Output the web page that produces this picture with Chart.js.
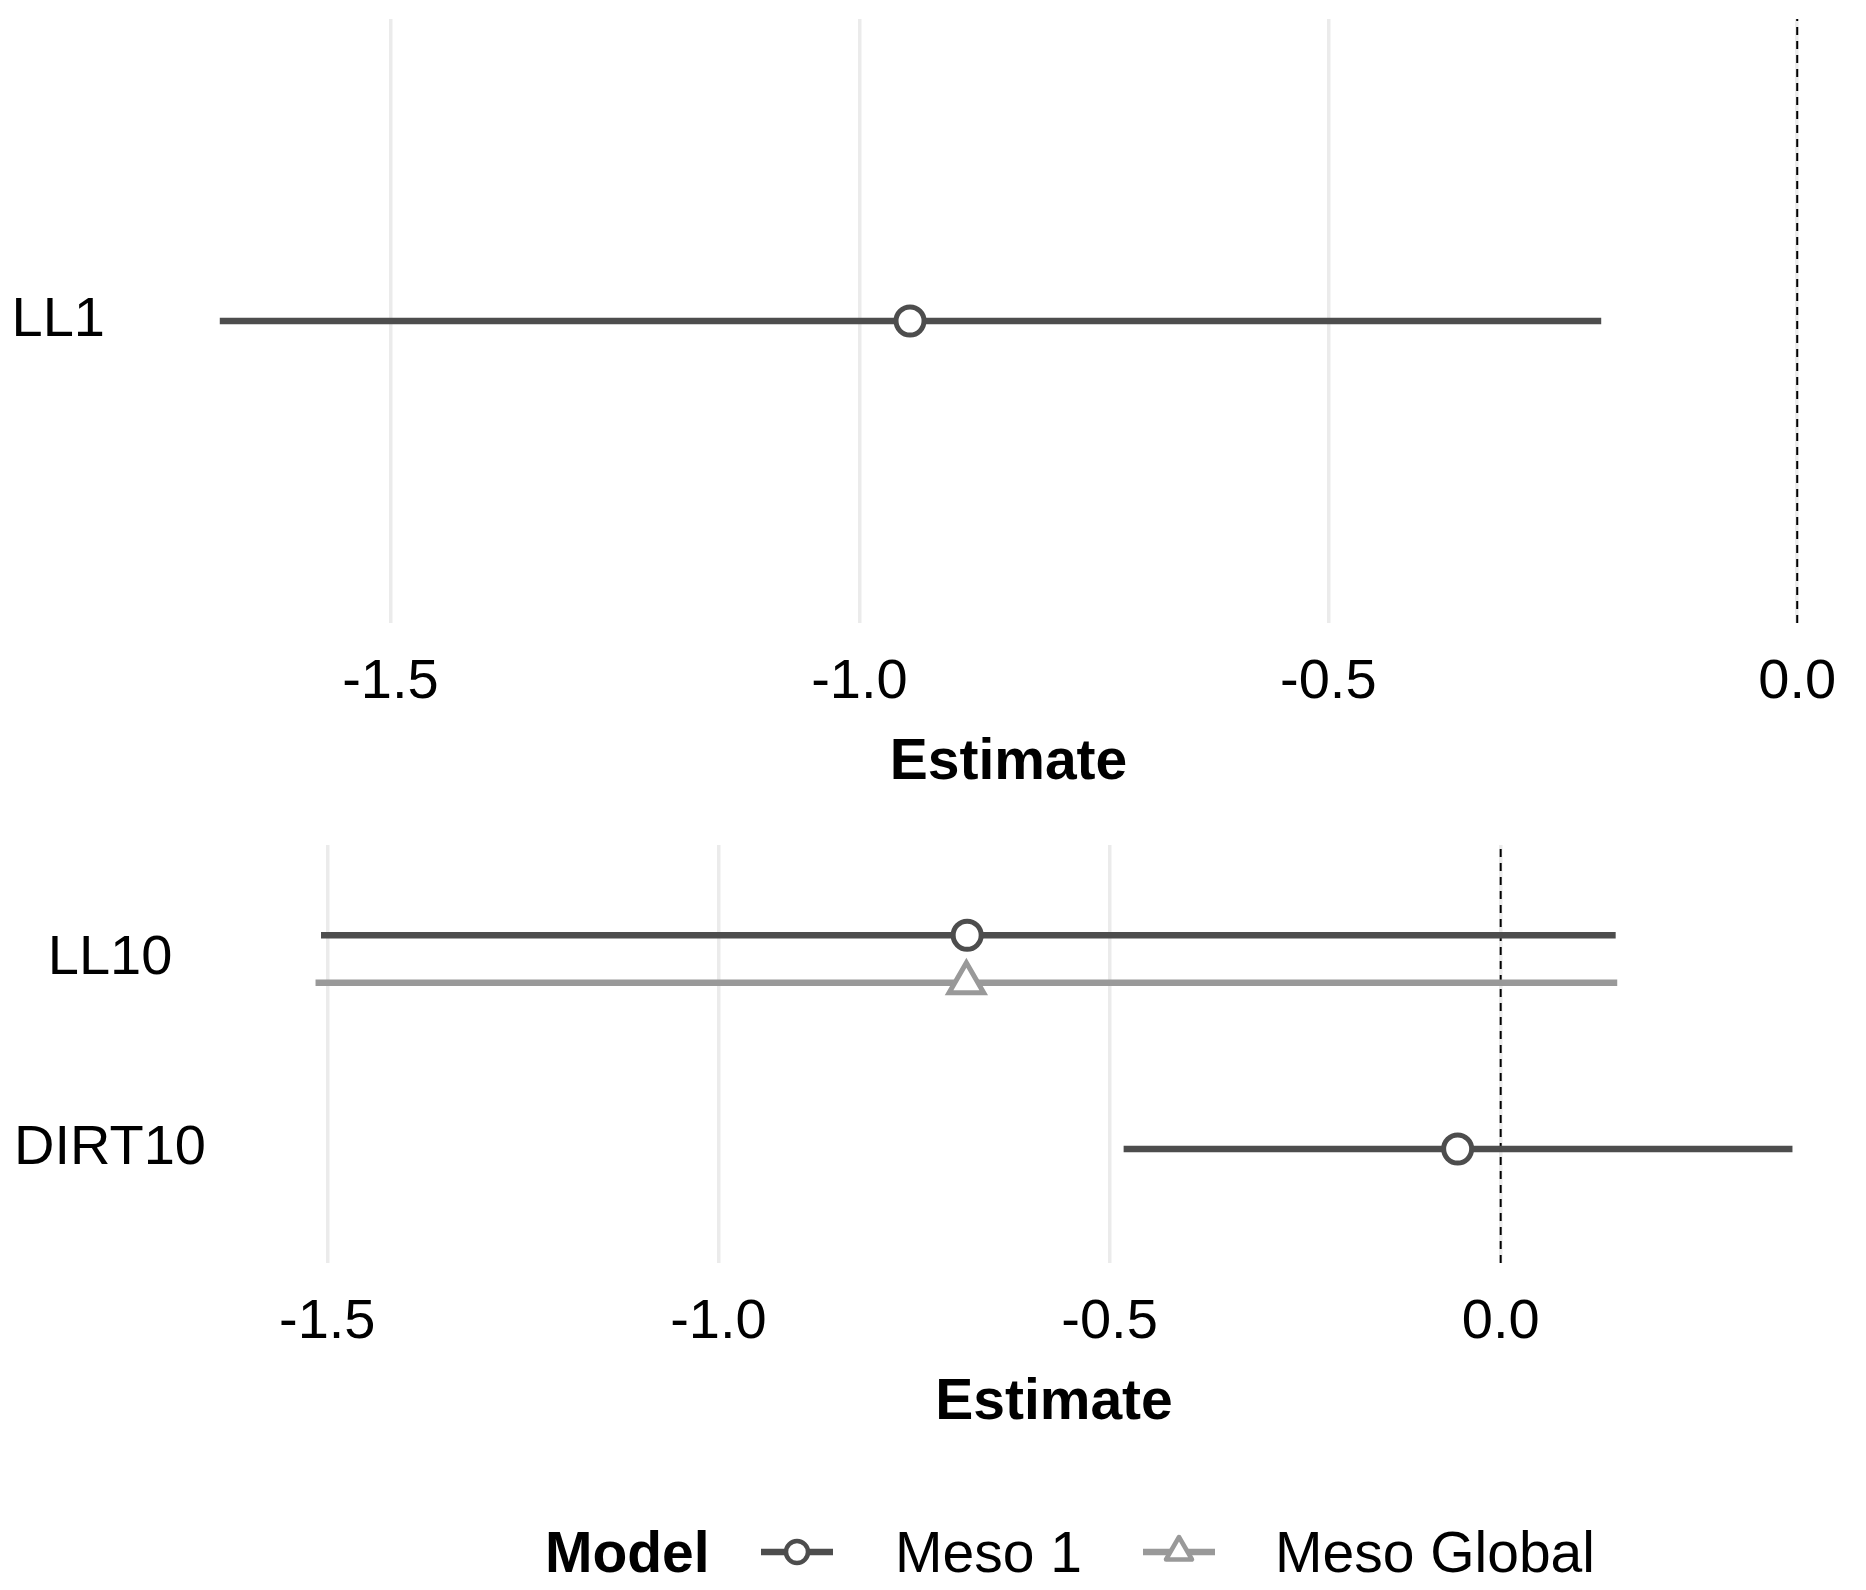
<!DOCTYPE html>
<html>
<head>
<meta charset="utf-8">
<title>Estimates by model</title>
<script src="https://cdn.jsdelivr.net/npm/chart.js@4.4.1/dist/chart.umd.min.js"></script>
<style>
  html, body { margin: 0; padding: 0; background: #fff; }
  #wrap { position: relative; width: 1866px; height: 1590px; overflow: hidden; background: #fff; }
  canvas { position: absolute; left: 0; }
  #topChart { top: 0; }
  #bottomChart { top: 820px; }
  .lg { position: absolute; font-family: "Liberation Sans", Arial, sans-serif; font-size: 57px; line-height: 1; color: #000; white-space: nowrap; }
  .lg.title { font-weight: bold; }
  .key { position: absolute; }
</style>
</head>
<body>
<div id="wrap">
  <canvas id="topChart" width="1895" height="820"></canvas>
  <canvas id="bottomChart" width="1891" height="640"></canvas>
  <div id="legend"></div>
</div>
<script>
// models
const modelNames = ['Meso 1', 'Meso Global'];

// top panel (one category)
const topCategories = ['LL1'];
const topMeso1Est = [-0.946];
const topMeso1Low = [-1.682];
const topMeso1High = [-0.209];
const topRange = [-1.766, 0.084];

// bottom panel, categories listed bottom to top
const bottomCategories = ['DIRT10', 'LL10'];
const bottomMeso1Est = [-0.055, -0.682];
const bottomMeso1Low = [-0.482, -1.508];
const bottomMeso1High = [0.373, 0.147];
const bottomGlobalEst = [null, -0.683];
const bottomGlobalLow = [null, -1.515];
const bottomGlobalHigh = [null, 0.149];
const bottomRange = [-1.609, 0.467];

const xTicks = [-1.5, -1.0, -0.5, 0.0];

const styles = {
  'Meso 1': { color: '#4d4d4d', point: 'circle', radius: 14 },
  'Meso Global': { color: '#999999', point: 'triangle', radius: 20 }
};
const dodgeWidth = 0.5;
const FONT = '"Liberation Sans", Arial, sans-serif';

Chart.defaults.font.family = FONT;
Chart.defaults.color = '#000';

function buildDatasets(categories, series) {
  const sets = [];
  const yMin = 0.4, yMax = categories.length + 0.6;
  // dashed reference line at zero
  sets.push({
    data: [{ x: 0, y: yMin }, { x: 0, y: yMax }],
    showLine: true, borderColor: '#000', borderWidth: 2, borderDash: [8, 6],
    pointRadius: 0, order: 3
  });
  categories.forEach((cat, i) => {
    const present = series.filter(s => s.est[i] != null);
    const n = present.length;
    present.forEach((s, k) => {
      const off = n === 1 ? 0 : dodgeWidth / 2 - dodgeWidth / (2 * n) - k * dodgeWidth / n;
      const y = i + 1 + off;
      const st = styles[s.name];
      sets.push({
        data: [{ x: s.low[i], y: y }, { x: s.high[i], y: y }],
        showLine: true, borderColor: st.color, borderWidth: 6.5, borderCapStyle: 'butt',
        pointRadius: 0, order: 2
      });
      sets.push({
        data: [{ x: s.est[i], y: y }],
        showLine: false, pointStyle: st.point, pointRadius: st.radius,
        pointBorderWidth: 5, pointBorderColor: st.color, pointBackgroundColor: '#fff',
        order: 1
      });
    });
  });
  return sets;
}

function makeChart(id, categories, series, range, padTop, yWidth) {
  return new Chart(document.getElementById(id), {
    type: 'scatter',
    data: { datasets: buildDatasets(categories, series) },
    options: {
      responsive: false,
      animation: false,
      devicePixelRatio: 1,
      events: [],
      layout: { padding: { top: padTop, left: 0, right: 0, bottom: 0 } },
      plugins: { legend: { display: false }, tooltip: { enabled: false } },
      scales: {
        x: {
          type: 'linear', min: range[0], max: range[1],
          afterBuildTicks: s => { s.ticks = xTicks.map(v => ({ value: v })); },
          ticks: { font: { size: 56 }, color: '#000', padding: 26, callback: v => Number(v).toFixed(1) },
          grid: { color: '#ebebeb', lineWidth: 3.5, drawTicks: false },
          border: { display: false },
          title: { display: true, text: 'Estimate', color: '#000',
                   font: { size: 57, weight: 'bold' }, padding: { top: 0, bottom: 23 } },
          afterFit: s => { s.height = 197; s.paddingLeft = 0; s.paddingRight = 0; }
        },
        y: {
          type: 'linear', min: 0.4, max: categories.length + 0.6,
          afterBuildTicks: s => { s.ticks = categories.map((c, i) => ({ value: i + 1 })); },
          ticks: { font: { size: 56 }, color: '#000', padding: 36, crossAlign: 'center',
                   callback: v => categories[Math.round(v) - 1] },
          grid: { display: false, drawTicks: false },
          border: { display: false },
          // labels sit mid-panel, so drop the label overflow padding Chart.js adds
          afterFit: s => { s.width = yWidth; s.paddingTop = 0; s.paddingBottom = 0; }
        }
      }
    }
  });
}

makeChart('topChart', topCategories, [
  { name: 'Meso 1', est: topMeso1Est, low: topMeso1Low, high: topMeso1High }
], topRange, 16, 141);

makeChart('bottomChart', bottomCategories, [
  { name: 'Meso 1', est: bottomMeso1Est, low: bottomMeso1Low, high: bottomMeso1High },
  { name: 'Meso Global', est: bottomGlobalEst, low: bottomGlobalLow, high: bottomGlobalHigh }
], bottomRange, 22, 242);

// legend
(function () {
  const lg = document.getElementById('legend');
  const keyLeft = [761, 1143];
  const textLeft = [895, 1275];
  lg.innerHTML = '<span class="lg title" style="left:545px;top:1524px">Model</span>';
  modelNames.forEach((name, i) => {
    const st = styles[name];
    const mark = st.point === 'circle'
      ? `<circle cx="36" cy="20" r="11" fill="#fff" stroke="${st.color}" stroke-width="4.5"/>`
      : `<polygon points="36,5 49,27.5 23,27.5" fill="#fff" stroke="${st.color}" stroke-width="4.5" stroke-linejoin="round"/>`;
    lg.innerHTML +=
      `<svg class="key" style="left:${keyLeft[i]}px;top:1532px" width="72" height="40">` +
      `<line x1="0" y1="20" x2="72" y2="20" stroke="${st.color}" stroke-width="6.5"/>${mark}</svg>` +
      `<span class="lg" style="left:${textLeft[i]}px;top:1524px">${name}</span>`;
  });
})();
</script>
</body>
</html>
